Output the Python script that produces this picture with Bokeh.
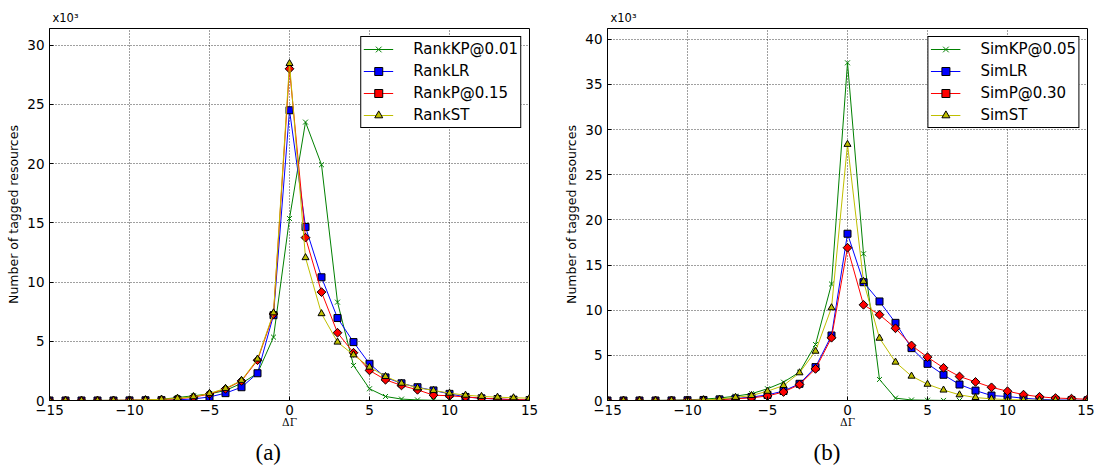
from bokeh.plotting import figure
from bokeh.layouts import row
from bokeh.models import (Range1d, SingleIntervalTicker, Legend, LegendItem, Title)
from bokeh.embed import file_html
from bokeh.resources import INLINE

# ---------------- data (values in thousands) ----------------
delta = list(range(-15, 16))

rank_kp = [0, 0, 0, 0.01, 0.01, 0.02, 0.04, 0.1, 0.25, 0.4, 0.55, 0.85, 1.45, 2.3, 5.35,
           15.36, 23.5, 19.9, 8.3, 2.96, 0.99, 0.34, 0.12, 0.05, 0.02, 0.01, 0, 0, 0, 0, 0]
rank_lr = [0, 0, 0, 0, 0, 0.01, 0.02, 0.03, 0.06, 0.13, 0.3, 0.62, 1.12, 2.3, 7.2,
           24.5, 14.65, 10.4, 6.96, 4.93, 3.1, 1.95, 1.45, 1.12, 0.85, 0.56, 0.3, 0.18, 0.12, 0.07, 0.04]
rank_p = [0, 0, 0, 0, 0.01, 0.02, 0.04, 0.08, 0.15, 0.28, 0.55, 0.98, 1.65, 3.4, 7.3,
          28.0, 13.75, 9.15, 5.72, 4.03, 2.54, 1.75, 1.27, 0.9, 0.45, 0.4, 0.3, 0.2, 0.13, 0.08, 0.05]
rank_st = [0, 0, 0, 0, 0.01, 0.02, 0.05, 0.1, 0.18, 0.32, 0.6, 1.02, 1.7, 3.5, 7.4,
           28.45, 12.06, 7.33, 4.93, 3.85, 2.82, 2.03, 1.46, 1.07, 0.85, 0.62, 0.45, 0.35, 0.28, 0.23, 0.2]

sim_kp = [0, 0, 0, 0.01, 0.02, 0.07, 0.15, 0.28, 0.48, 0.75, 1.3, 2.03, 3.14, 6.2, 12.9,
          37.4, 16.25, 2.33, 0.26, 0.06, 0.03, 0.01, 0, 0, 0, 0, 0, 0, 0, 0, 0]
sim_lr = [0, 0, 0, 0, 0.01, 0.03, 0.06, 0.12, 0.22, 0.38, 0.62, 1.05, 1.85, 3.7, 7.2,
          18.47, 13.1, 10.97, 8.6, 5.8, 4.06, 2.85, 1.77, 1.1, 0.55, 0.44, 0.25, 0.13, 0.07, 0.04, 0.02]
sim_p = [0, 0, 0, 0, 0.01, 0.02, 0.05, 0.1, 0.18, 0.3, 0.5, 0.94, 1.77, 3.5, 6.95,
         16.92, 10.6, 9.5, 8.0, 6.1, 4.8, 3.62, 2.66, 2.06, 1.46, 1.03, 0.65, 0.41, 0.27, 0.21, 0.14]
sim_st = [0, 0, 0, 0, 0.01, 0.03, 0.07, 0.15, 0.35, 0.55, 1.03, 1.66, 3.07, 5.46, 10.27,
          28.37, 13.2, 6.9, 4.25, 2.7, 1.8, 1.16, 0.63, 0.33, 0.18, 0.1, 0.06, 0.04, 0.02, 0.01, 0]

rank_labels = ["RankKP@0.01", "RankLR", "RankP@0.15", "RankST"]
sim_labels = ["SimKP@0.05", "SimLR", "SimP@0.30", "SimST"]
x_tick_labels = {-15: "\u221215", -10: "\u221210", -5: "\u22125", 0: "0", 5: "5", 10: "10", 15: "15"}
y_label = "Number of tagged resources"
x_label = "\u0394\u0393"
scale_label = "x10\u00b3"
captions = ["(a)", "(b)"]

# ---------------- styles ----------------
STYLES = [
    dict(marker="x", color="#008000", fill="#008000", edge="#008000", size=7, angle=0.0),
    dict(marker="square", color="#0000ff", fill="#0000ff", edge="black", size=7, angle=0.0),
    dict(marker="square", color="#ff0000", fill="#ff0000", edge="black", size=6.2, angle=0.785398),
    dict(marker="triangle", color="#bfbf00", fill="#bfbf00", edge="black", size=7, angle=0.0),
]


def make_panel(series, labels, ymax, caption, width, bl, br):
    p = figure(width=width, height=474, output_backend="svg", toolbar_location=None,
               x_range=Range1d(-15, 15), y_range=Range1d(0, ymax),
               min_border_left=bl, min_border_right=br, min_border_top=28,
               min_border_bottom=74)
    p.background_fill_color = "white"
    p.border_fill_color = "white"
    p.outline_line_color = "black"
    p.outline_line_width = 1

    # "x10^3" multiplier, as the plot title
    p.title.text = scale_label
    p.title.align = "left"
    p.title.offset = 3
    p.title.text_font = "DejaVu Sans"
    p.title.text_font_size = "11.5px"
    p.title.text_font_style = "normal"
    p.title.text_color = "black"
    p.title.standoff = 7

    xt = SingleIntervalTicker(interval=5, num_minor_ticks=0)
    yt = SingleIntervalTicker(interval=5, num_minor_ticks=0)
    p.xaxis.ticker = xt
    p.yaxis.ticker = yt
    p.xgrid.ticker = xt
    p.ygrid.ticker = yt
    p.xaxis.major_label_overrides = x_tick_labels
    for ax in (p.xaxis, p.yaxis):
        ax.major_tick_in = 4
        ax.major_tick_out = 0
        ax.minor_tick_line_color = None
        ax.axis_line_color = "black"
        ax.major_tick_line_color = "black"
        ax.major_label_text_font = "DejaVu Sans"
        ax.major_label_text_font_size = "13.5px"
        ax.major_label_text_color = "black"
    p.xaxis.major_label_standoff = 4
    p.yaxis.major_label_standoff = 5
    p.yaxis.axis_label = y_label
    p.yaxis.axis_label_text_font = "DejaVu Sans"
    p.yaxis.axis_label_text_font_size = "12.5px"
    p.yaxis.axis_label_text_font_style = "normal"
    p.yaxis.axis_label_text_color = "black"
    p.yaxis.axis_label_standoff = 3
    p.xaxis.axis_label = x_label
    p.xaxis.axis_label_text_font = "DejaVu Serif"
    p.xaxis.axis_label_text_font_size = "10.5px"
    p.xaxis.axis_label_text_font_style = "normal"
    p.xaxis.axis_label_text_color = "black"
    p.xaxis.axis_label_standoff = -2

    for g in (p.xgrid, p.ygrid):
        g.grid_line_color = "black"
        g.grid_line_dash = "1 2"
        g.grid_line_alpha = 0.75
        g.grid_line_width = 1

    items = []
    for vals, lab, st in zip(series, labels, STYLES):
        lr = p.line(delta, vals, line_color=st["color"], line_width=1)
        sr = p.scatter(delta, vals, marker=st["marker"], size=st["size"], angle=st["angle"],
                       fill_color=st["fill"], line_color=st["edge"], line_width=1)
        items.append(LegendItem(label=lab, renderers=[lr, sr]))

    leg = Legend(items=items, location="top_right")
    leg.label_text_font = "DejaVu Sans"
    leg.label_text_font_size = "15px"
    leg.label_text_color = "black"
    leg.border_line_color = "black"
    leg.border_line_width = 1
    leg.border_line_alpha = 1
    leg.background_fill_alpha = 1
    leg.padding = 2
    leg.spacing = 2
    leg.margin = 8
    leg.glyph_width = 30
    leg.glyph_height = 20
    leg.label_height = 20
    leg.label_standoff = 20
    p.add_layout(leg)

    cap = Title(text=caption, align="left", offset=206, standoff=14,
                text_font="Liberation Serif", text_font_size="23px",
                text_font_style="normal", text_color="black")
    p.add_layout(cap, "below")
    return p


p1 = make_panel([rank_kp, rank_lr, rank_p, rank_st], rank_labels, 31.4, captions[0], 545, 49, 16)
p2 = make_panel([sim_kp, sim_lr, sim_p, sim_st], sim_labels, 41.2, captions[1], 549, 62, 7)

layout = row(p1, p2)
open("out.html", "w").write(file_html(layout, INLINE))
